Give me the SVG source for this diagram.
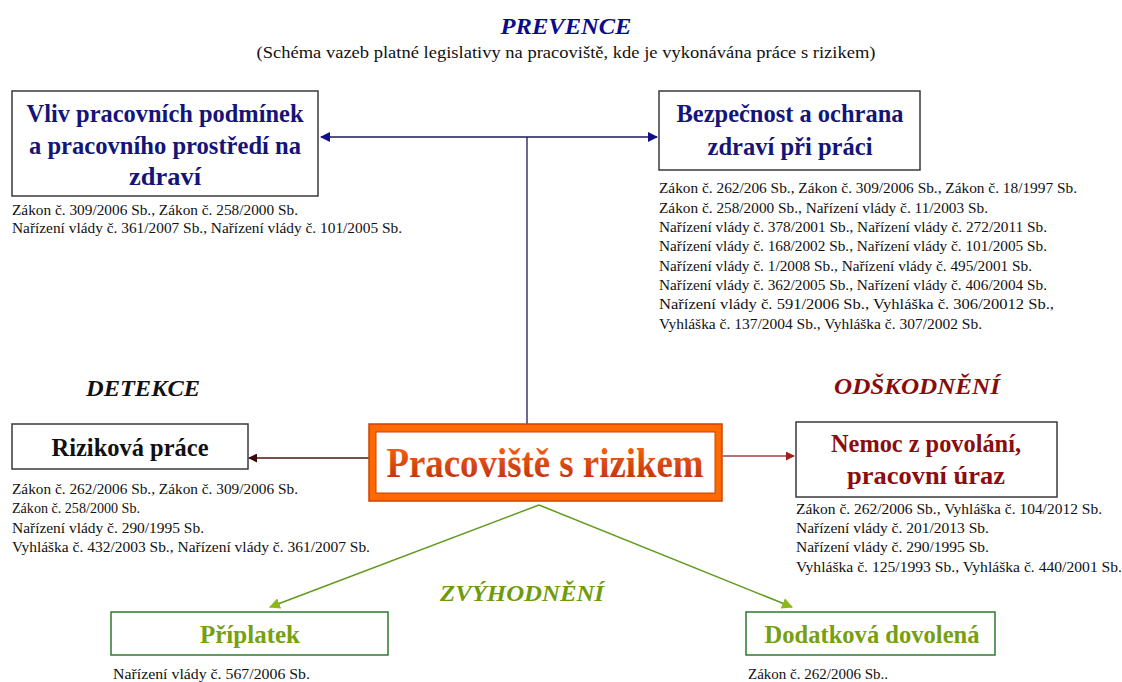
<svg xmlns="http://www.w3.org/2000/svg" width="1122" height="682" viewBox="0 0 1122 682">
<style>
.serif{font-family:"Liberation Serif","Times New Roman",serif;}
.leg{font-family:"Liberation Serif","Times New Roman",serif;font-size:15px;fill:#111;}
.head{font-family:"Liberation Serif","Times New Roman",serif;font-size:25px;font-weight:bold;text-anchor:middle;}
.cat{font-family:"Liberation Serif","Times New Roman",serif;font-size:24px;font-weight:bold;font-style:italic;text-anchor:middle;}
.box{fill:#fff;stroke:#3a3a3a;stroke-width:1.5;}
.gbox{fill:#fff;stroke:#2e7a2e;stroke-width:1.5;}
.navy{fill:#14147a;}
.dred{fill:#8b0d0d;}
.green{fill:#77a010;}
</style>
<defs>
<marker id="mBlue" viewBox="0 0 10 10" refX="9" refY="5" markerWidth="10" markerHeight="10" markerUnits="userSpaceOnUse" orient="auto-start-reverse"><path d="M0,0 L10,5 L0,10 z" fill="#10108a"/></marker>
<marker id="mBrown" viewBox="0 0 10 10" refX="9" refY="5" markerWidth="9" markerHeight="9" markerUnits="userSpaceOnUse" orient="auto"><path d="M0,0 L10,5 L0,10 z" fill="#3a0a0a"/></marker>
<marker id="mRed" viewBox="0 0 10 10" refX="9" refY="5" markerWidth="9" markerHeight="9" markerUnits="userSpaceOnUse" orient="auto"><path d="M0,0 L10,5 L0,10 z" fill="#a02020"/></marker>
<marker id="mGreen" viewBox="0 0 10 10" refX="9" refY="5" markerWidth="11" markerHeight="11" markerUnits="userSpaceOnUse" orient="auto"><path d="M0,0 L10,5 L0,10 z" fill="#8cb81e"/></marker>
<linearGradient id="gText" x1="0" y1="0" x2="0" y2="1"><stop offset="0" stop-color="#ff6a10"/><stop offset="1" stop-color="#b82a10"/></linearGradient>
</defs>

<g id="titles">
<text class="cat" x="566" y="34" fill="#0a0a8c" textLength="131" lengthAdjust="spacingAndGlyphs">PREVENCE</text>
<text class="serif" x="566" y="58" font-size="17" text-anchor="middle" fill="#111" textLength="619" lengthAdjust="spacingAndGlyphs">(Schéma vazeb platné legislativy na pracoviště, kde je vykonávána práce s rizikem)</text>
<text class="cat" x="143" y="396" fill="#111" textLength="114" lengthAdjust="spacingAndGlyphs">DETEKCE</text>
<text class="cat" x="917" y="394" fill="#8b0a0a" textLength="166" lengthAdjust="spacingAndGlyphs">ODŠKODNĚNÍ</text>
<text class="cat" x="522" y="601" fill="#6e9a0c" textLength="164" lengthAdjust="spacingAndGlyphs">ZVÝHODNĚNÍ</text>
</g>

<g id="connectors" fill="none">
<line x1="527" y1="137" x2="527" y2="424" stroke="#1a1a5a" stroke-width="1.3"/>
<line x1="321" y1="137" x2="657" y2="137" stroke="#1a1a5a" stroke-width="1.5" marker-start="url(#mBlue)" marker-end="url(#mBlue)"/>
<line x1="369" y1="458" x2="249" y2="458" stroke="#4a1414" stroke-width="1.6" marker-end="url(#mBrown)"/>
<line x1="723" y1="456" x2="794" y2="456" stroke="#a04040" stroke-width="1.6" marker-end="url(#mRed)"/>
<line x1="539" y1="505" x2="270" y2="607" stroke="#5f9a1a" stroke-width="1.5" marker-end="url(#mGreen)"/>
<line x1="539" y1="505" x2="792" y2="607" stroke="#5f9a1a" stroke-width="1.5" marker-end="url(#mGreen)"/>
</g>

<g id="node-vliv">
<rect class="box" x="12" y="91" width="306" height="105"/>
<text class="head navy" x="165" y="122" textLength="277" lengthAdjust="spacingAndGlyphs">Vliv pracovních podmínek</text>
<text class="head navy" x="165" y="154" textLength="272" lengthAdjust="spacingAndGlyphs">a pracovního prostředí na</text>
<text class="head navy" x="165" y="185" textLength="72" lengthAdjust="spacingAndGlyphs">zdraví</text>
<text class="leg" x="12" y="215" textLength="286" lengthAdjust="spacingAndGlyphs">Zákon č. 309/2006 Sb., Zákon č. 258/2000 Sb.</text>
<text class="leg" x="12" y="233" textLength="390" lengthAdjust="spacingAndGlyphs">Nařízení vlády č. 361/2007 Sb., Nařízení vlády č. 101/2005 Sb.</text>
</g>

<g id="node-bozp">
<rect class="box" x="659" y="91" width="261" height="79"/>
<text class="head navy" x="790" y="122" textLength="227" lengthAdjust="spacingAndGlyphs">Bezpečnost a ochrana</text>
<text class="head navy" x="790" y="155" textLength="165" lengthAdjust="spacingAndGlyphs">zdraví při práci</text>
<text class="leg" x="659" y="193" textLength="418" lengthAdjust="spacingAndGlyphs">Zákon č. 262/206 Sb., Zákon č. 309/2006 Sb., Zákon č. 18/1997 Sb.</text>
<text class="leg" x="659" y="213" textLength="329" lengthAdjust="spacingAndGlyphs">Zákon č. 258/2000 Sb., Nařízení vlády č. 11/2003 Sb.</text>
<text class="leg" x="659" y="232" textLength="388" lengthAdjust="spacingAndGlyphs">Nařízení vlády č. 378/2001 Sb., Nařízení vlády č. 272/2011 Sb.</text>
<text class="leg" x="659" y="251" textLength="388" lengthAdjust="spacingAndGlyphs">Nařízení vlády č. 168/2002 Sb., Nařízení vlády č. 101/2005 Sb.</text>
<text class="leg" x="659" y="271" textLength="373" lengthAdjust="spacingAndGlyphs">Nařízení vlády č. 1/2008 Sb., Nařízení vlády č. 495/2001 Sb.</text>
<text class="leg" x="659" y="290" textLength="388" lengthAdjust="spacingAndGlyphs">Nařízení vlády č. 362/2005 Sb., Nařízení vlády č. 406/2004 Sb.</text>
<text class="leg" x="659" y="309" textLength="395" lengthAdjust="spacingAndGlyphs">Nařízení vlády č. 591/2006 Sb., Vyhláška č. 306/20012 Sb.,</text>
<text class="leg" x="659" y="329" textLength="323" lengthAdjust="spacingAndGlyphs">Vyhláška č. 137/2004 Sb., Vyhláška č. 307/2002 Sb.</text>
</g>

<g id="node-center">
<rect x="369" y="424" width="353" height="77" fill="#ff6a00" stroke="#d04000" stroke-width="1.5"/>
<rect x="376" y="432" width="339" height="61" fill="#fff" stroke="#c84000" stroke-width="1"/>
<text class="serif" x="545" y="477" font-size="42" font-weight="bold" text-anchor="middle" fill="url(#gText)" textLength="317" lengthAdjust="spacingAndGlyphs">Pracoviště s rizikem</text>
</g>

<g id="node-rizikova">
<rect class="box" x="12" y="424" width="236" height="45"/>
<text class="head" x="130" y="456" fill="#111" textLength="157" lengthAdjust="spacingAndGlyphs">Riziková práce</text>
<text class="leg" x="12" y="494" textLength="286" lengthAdjust="spacingAndGlyphs">Zákon č. 262/2006 Sb., Zákon č. 309/2006 Sb.</text>
<text class="leg" x="12" y="513" textLength="128" lengthAdjust="spacingAndGlyphs">Zákon č. 258/2000 Sb.</text>
<text class="leg" x="12" y="533" textLength="192" lengthAdjust="spacingAndGlyphs">Nařízení vlády č. 290/1995 Sb.</text>
<text class="leg" x="12" y="552" textLength="358" lengthAdjust="spacingAndGlyphs">Vyhláška č. 432/2003 Sb., Nařízení vlády č. 361/2007 Sb.</text>
</g>

<g id="node-nemoc">
<rect class="box" x="796" y="422" width="261" height="75"/>
<text class="head dred" x="926" y="452" textLength="190" lengthAdjust="spacingAndGlyphs">Nemoc z povolání,</text>
<text class="head dred" x="926" y="484" textLength="158" lengthAdjust="spacingAndGlyphs">pracovní úraz</text>
<text class="leg" x="796" y="514" textLength="306" lengthAdjust="spacingAndGlyphs">Zákon č. 262/2006 Sb., Vyhláška č. 104/2012 Sb.</text>
<text class="leg" x="796" y="533" textLength="193" lengthAdjust="spacingAndGlyphs">Nařízení vlády č. 201/2013 Sb.</text>
<text class="leg" x="796" y="552" textLength="193" lengthAdjust="spacingAndGlyphs">Nařízení vlády č. 290/1995 Sb.</text>
<text class="leg" x="796" y="572" textLength="326" lengthAdjust="spacingAndGlyphs">Vyhláška č. 125/1993 Sb., Vyhláška č. 440/2001 Sb.</text>
</g>

<g id="node-priplatek">
<rect class="gbox" x="111" y="612" width="277" height="43"/>
<text class="head green" x="250" y="643" textLength="100" lengthAdjust="spacingAndGlyphs">Příplatek</text>
<text class="leg" x="113" y="679" textLength="197" lengthAdjust="spacingAndGlyphs">Nařízení vlády  č. 567/2006 Sb.</text>
</g>

<g id="node-dovolena">
<rect class="gbox" x="746" y="612" width="249" height="43"/>
<text class="head green" x="872" y="643" textLength="215" lengthAdjust="spacingAndGlyphs">Dodatková dovolená</text>
<text class="leg" x="748" y="679" textLength="140" lengthAdjust="spacingAndGlyphs">Zákon č. 262/2006 Sb..</text>
</g>
</svg>
